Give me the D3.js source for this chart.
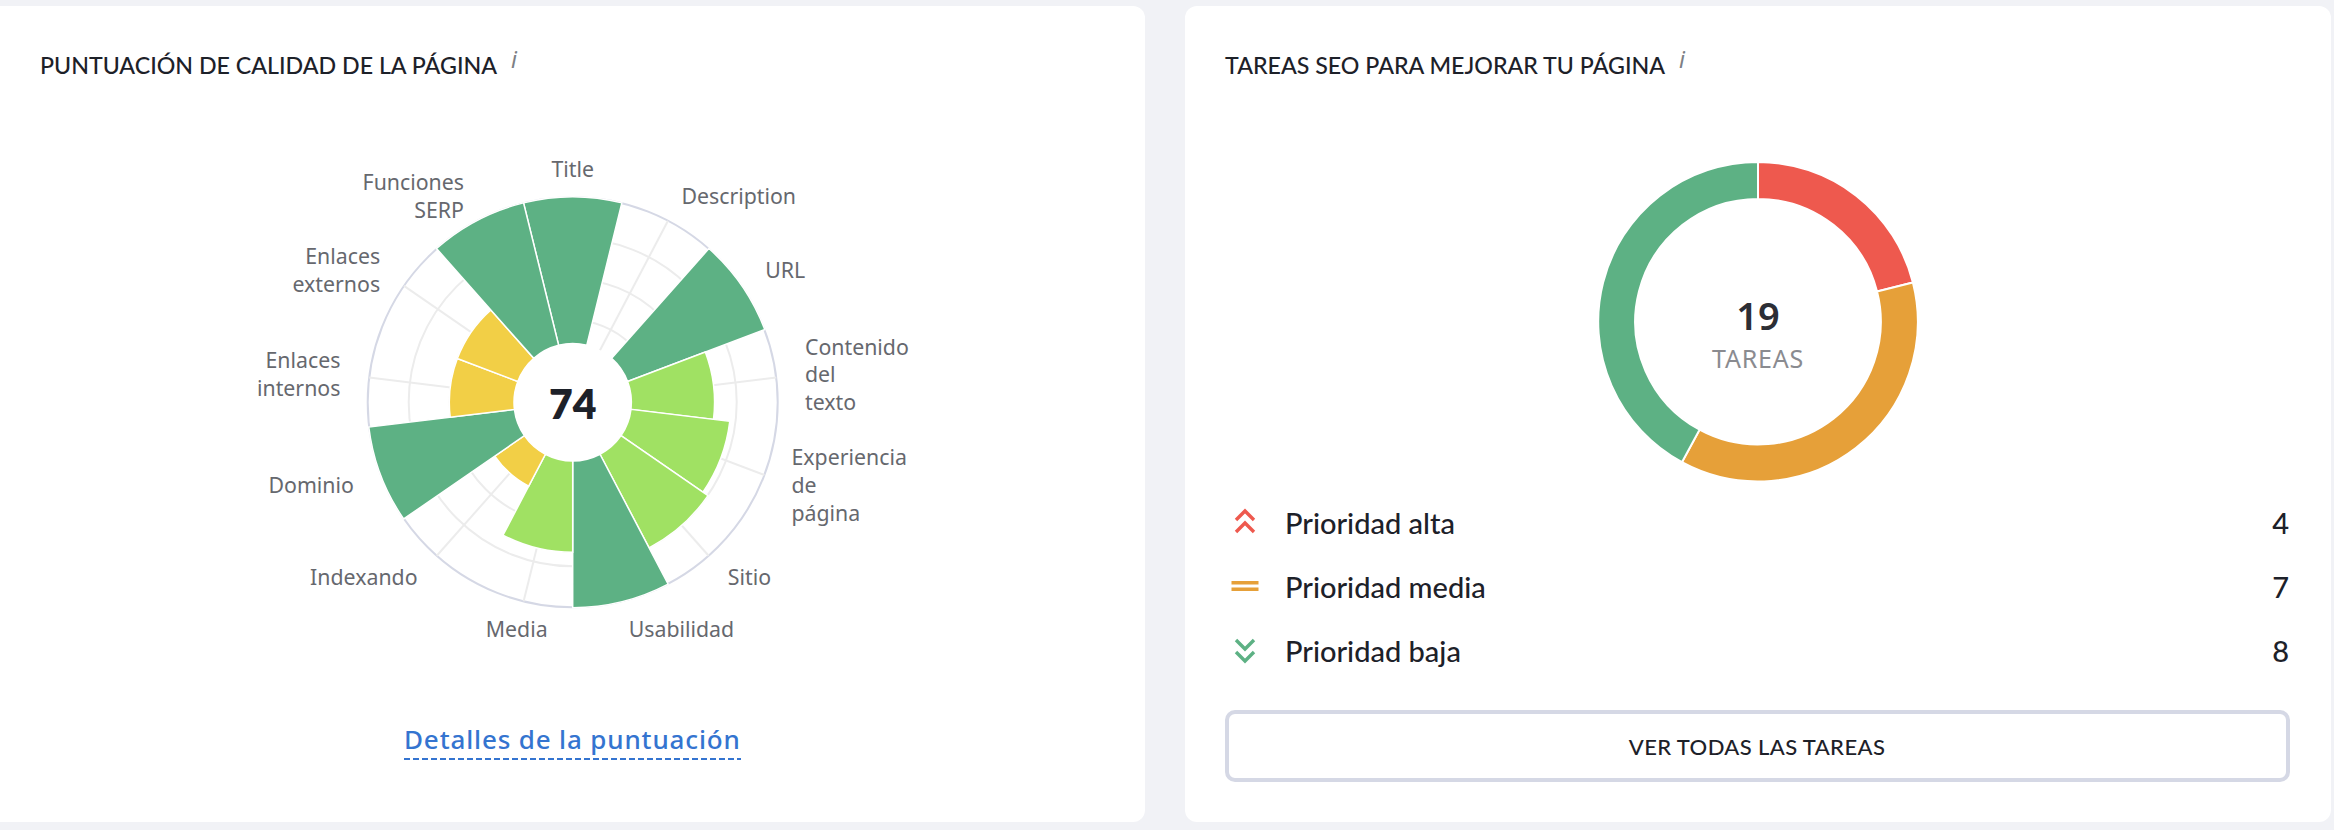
<!DOCTYPE html>
<html>
<head>
<meta charset="utf-8">
<script src="https://d3js.org/d3.v7.min.js"></script>
<style>
  html, body { margin: 0; padding: 0; background: #f1f2f6; }
  svg { display: block; }
</style>
</head>
<body>
<svg id="chart" width="2334" height="830"></svg>
<script>
// chart values
const categories = ["Title", "Description", "URL", "Contenido del texto", "Experiencia de página", "Sitio", "Usabilidad", "Media", "Indexando", "Dominio", "Enlaces internos", "Enlaces externos", "Funciones SERP"];
const scores = [100, 0, 100, 69, 77, 80, 100, 73, 46, 100, 60, 60, 100];
const totalScore = 74;
const gridTicks = [20, 40, 60, 80, 100];

const priorities = ["Prioridad alta", "Prioridad media", "Prioridad baja"];
const taskCounts = [4, 7, 8];
const priorityColors = ["#ee594e", "#e6a039", "#5db184"];
const totalTasks = 19;

const labelLines = {
  "Contenido del texto": ["Contenido", "del", "texto"],
  "Experiencia de página": ["Experiencia", "de", "página"],
  "Funciones SERP": ["Funciones", "SERP"],
  "Enlaces externos": ["Enlaces", "externos"],
  "Enlaces internos": ["Enlaces", "internos"]
};

const svg = d3.select("#chart");
const mainFont = "'Noto Sans', sans-serif";
const legendFont = "Lato, sans-serif";

function scoreColor(v) {
  if (v >= 85) return "#5db184";
  if (v >= 65) return "#a0e163";
  return "#f2cf46";
}

// 1) CARDS
svg.append("rect").attr("x", -20).attr("y", 6).attr("width", 1165).attr("height", 816).attr("rx", 12).attr("fill", "#fff");
svg.append("rect").attr("x", 1185).attr("y", 6).attr("width", 1146).attr("height", 816).attr("rx", 12).attr("fill", "#fff");

function cardTitle(x, label) {
  const t = svg.append("text").attr("x", x).attr("y", 74)
    .attr("font-family", legendFont).attr("font-weight", 500).attr("font-size", 23.2).attr("fill", "#1d2129")
    .text(label);
  const w = t.node().getComputedTextLength();
  svg.append("text").attr("x", x + w + 14).attr("y", 68)
    .attr("font-family", mainFont).attr("font-size", 23).attr("font-style", "italic").attr("fill", "#7d7f85")
    .text("i");
}
cardTitle(40, "PUNTUACIÓN DE CALIDAD DE LA PÁGINA");
cardTitle(1225, "TAREAS SEO PARA MEJORAR TU PÁGINA");

// 2) POLAR CHART
const rose = svg.append("g").attr("transform", "translate(572.7,402.3)");
const innerRadius = 58.7;
const r = d3.scaleLinear().domain([0, 100]).range([0, 205]);
const angle = d3.scaleBand().domain(categories).range([-Math.PI / 13, 2 * Math.PI - Math.PI / 13]);
const mid = d => angle(d) + angle.bandwidth() / 2;

rose.selectAll(".grid-ring")
  .data(gridTicks)
  .join("circle")
  .attr("class", "grid-ring")
  .attr("r", d => r(d))
  .attr("fill", "none")
  .attr("stroke", d => d === 100 ? "#d5d8e5" : "#ececec")
  .attr("stroke-width", 2);

rose.selectAll(".grid-spoke")
  .data(categories)
  .join("line")
  .attr("class", "grid-spoke")
  .attr("x1", d => Math.sin(mid(d)) * innerRadius)
  .attr("y1", d => -Math.cos(mid(d)) * innerRadius)
  .attr("x2", d => Math.sin(mid(d)) * r(100))
  .attr("y2", d => -Math.cos(mid(d)) * r(100))
  .attr("stroke", "#ececec")
  .attr("stroke-width", 2);

const sector = d3.arc()
  .innerRadius(innerRadius)
  .outerRadius(d => r(d.value) + 0.4)
  .startAngle(d => angle(d.name))
  .endAngle(d => angle(d.name) + angle.bandwidth());

rose.selectAll(".sector")
  .data(categories.map((name, i) => ({ name, value: scores[i] })).filter(d => d.value > 0))
  .join("path")
  .attr("class", "sector")
  .attr("d", sector)
  .attr("fill", d => scoreColor(d.value))
  .attr("stroke", "#fff")
  .attr("stroke-width", 1.5);

rose.append("circle").attr("r", innerRadius).attr("fill", "#fff");
rose.append("text").attr("y", 17)
  .attr("text-anchor", "middle")
  .attr("font-family", legendFont).attr("font-weight", 800).attr("font-size", 41).attr("fill", "#1d2129")
  .text(totalScore);

// category labels sit on a circle outside the plot
const labelRadius = 234;
const lineHeight = 27.7;
categories.forEach(name => {
  const a = mid(name);
  const lines = labelLines[name] || [name];
  const x = Math.sin(a) * labelRadius;
  const y = -Math.cos(a) * 233;
  let anchor = Math.sin(a) > 0.05 ? "start" : "end";
  if (name === "Title" || name === "Media") anchor = "middle";
  rose.append("text")
    .attr("text-anchor", anchor)
    .attr("font-family", mainFont).attr("font-size", 21.3).attr("fill", "#66686e")
    .selectAll("tspan")
    .data(lines)
    .join("tspan")
    .attr("x", x)
    .attr("y", (d, i) => y + 8 + (i - (lines.length - 1) / 2) * lineHeight)
    .text(d => d);
});

// link under the chart
svg.append("text").attr("x", 404).attr("y", 749)
  .attr("font-family", mainFont).attr("font-weight", 500).attr("font-size", 26).attr("letter-spacing", 0.85).attr("fill", "#3474d0")
  .text("Detalles de la puntuación");
svg.append("line").attr("x1", 404).attr("x2", 741).attr("y1", 759).attr("y2", 759)
  .attr("stroke", "#3474d0").attr("stroke-width", 2).attr("stroke-dasharray", "6 3");

// 3) DONUT
const donut = svg.append("g").attr("transform", "translate(1758,321.7)");
const pie = d3.pie().sort(null)(taskCounts);
const ring = d3.arc().innerRadius(122.8).outerRadius(159.8);
donut.selectAll("path")
  .data(pie)
  .join("path")
  .attr("d", ring)
  .attr("fill", (d, i) => priorityColors[i])
  .attr("stroke", "#fff")
  .attr("stroke-width", 2);
donut.append("text").attr("y", 8)
  .attr("text-anchor", "middle")
  .attr("font-family", mainFont).attr("font-weight", 600).attr("font-size", 38).attr("fill", "#2c2e35")
  .text(totalTasks);
donut.append("text").attr("y", 46)
  .attr("text-anchor", "middle")
  .attr("font-family", mainFont).attr("font-size", 25).attr("letter-spacing", 0.8).attr("fill", "#8a8b90")
  .text("TAREAS");

// 4) LEGEND
const rowY = d3.scalePoint().domain(priorities).range([524, 652]);
const legend = svg.selectAll(".legend-row")
  .data(priorities)
  .join("g")
  .attr("class", "legend-row")
  .attr("transform", d => `translate(0,${rowY(d)})`);

legend.append("text").attr("x", 1285).attr("y", 10)
  .attr("font-family", legendFont).attr("font-weight", 500).attr("font-size", 29).attr("fill", "#1d2129")
  .text(d => d);
legend.append("text").attr("x", 2289).attr("y", 10)
  .attr("text-anchor", "end")
  .attr("font-family", legendFont).attr("font-weight", 500).attr("font-size", 29).attr("fill", "#1d2129")
  .text((d, i) => taskCounts[i]);

const iconPaths = [
  "M-9,-2 L0,-11 L9,-2 M-9,10 L0,1 L9,10",
  "M-13.5,-3.3 H13.5 M-13.5,3.3 H13.5",
  "M-9,-10 L0,-1 L9,-10 M-9,2 L0,11 L9,2"
];
legend.append("path")
  .attr("transform", "translate(1245,-2)")
  .attr("d", (d, i) => iconPaths[i])
  .attr("fill", "none")
  .attr("stroke", (d, i) => priorityColors[i])
  .attr("stroke-width", 3.4);

// 5) BUTTON
svg.append("rect").attr("x", 1227).attr("y", 712).attr("width", 1061).attr("height", 68).attr("rx", 8)
  .attr("fill", "#fff").attr("stroke", "#d5d8e5").attr("stroke-width", 4);
svg.append("text").attr("x", 1757).attr("y", 755)
  .attr("text-anchor", "middle")
  .attr("font-family", legendFont).attr("font-weight", 500).attr("font-size", 22).attr("letter-spacing", 0.4).attr("fill", "#1d2129")
  .text("VER TODAS LAS TAREAS");
</script>
</body>
</html>
